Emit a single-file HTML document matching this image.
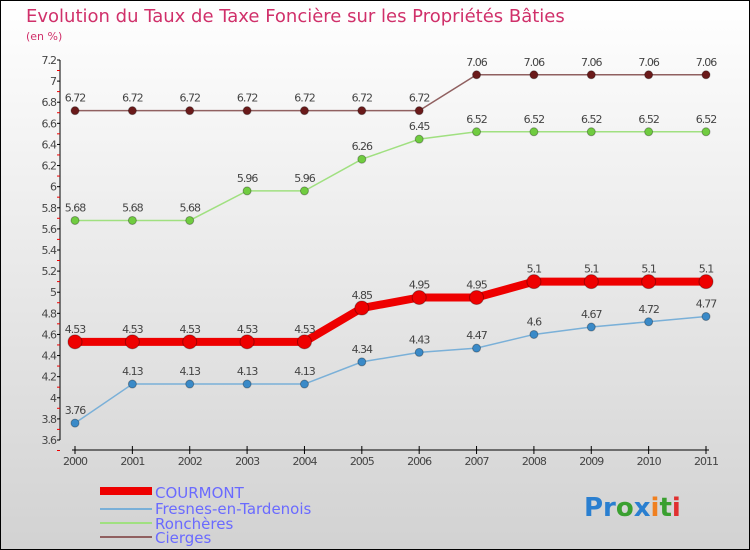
<!DOCTYPE html>
<html><head><meta charset="utf-8"><style>
body{margin:0}
#c{width:748px;height:548px;border:1px solid #000;background:linear-gradient(#ffffff,#d2d2d2);position:relative;font-family:"DejaVu Sans","Liberation Sans",sans-serif;overflow:hidden}
text{font-family:"DejaVu Sans","Liberation Sans",sans-serif}
</style></head><body>
<div id="c">
<svg id="s" width="748" height="548" viewBox="1 1 748 548">
<text x="26" y="22" font-size="18" fill="#d0306a">Evolution du Taux de Taxe Foncière sur les Propriétés Bâties</text>
<text x="26" y="40" font-size="11" fill="#d0306a">(en %)</text>
<g id="ax"></g><g id="ser"></g>
<g>
<rect x="100" y="487" width="52" height="8" fill="#ee0000"/>
<text x="155" y="498" font-size="15" fill="#6a6aff">COURMONT</text>
<rect x="100" y="508" width="52" height="2" fill="#7ab0d8"/>
<text x="155" y="514" font-size="15" fill="#6a6aff">Fresnes-en-Tardenois</text>
<rect x="100" y="522" width="52" height="2" fill="#a0e080"/>
<text x="155" y="529" font-size="15" fill="#6a6aff">Ronchères</text>
<rect x="100" y="536" width="52" height="2" fill="#906060"/>
<text x="155" y="543" font-size="15" fill="#6a6aff">Cierges</text>
</g>
<text x="584" y="516" font-size="26" font-weight="bold"><tspan fill="#2a7fd0">Pr</tspan><tspan fill="#3aa030">o</tspan><tspan fill="#2a7fd0">x</tspan><tspan fill="#f08020">i</tspan><tspan fill="#3aa030">t</tspan><tspan fill="#e03030">i</tspan></text>
</svg></div>
<script>
const years=[2000,2001,2002,2003,2004,2005,2006,2007,2008,2009,2010,2011];
const courmont=[4.53,4.53,4.53,4.53,4.53,4.85,4.95,4.95,5.1,5.1,5.1,5.1];
const fresnes=[3.76,4.13,4.13,4.13,4.13,4.34,4.43,4.47,4.6,4.67,4.72,4.77];
const ronch=[5.68,5.68,5.68,5.96,5.96,6.26,6.45,6.52,6.52,6.52,6.52,6.52];
const cierges=[6.72,6.72,6.72,6.72,6.72,6.72,6.72,7.06,7.06,7.06,7.06,7.06];
const yTicks=[3.6,3.8,4,4.2,4.4,4.6,4.8,5,5.2,5.4,5.6,5.8,6,6.2,6.4,6.6,6.8,7,7.2];
const NS="http://www.w3.org/2000/svg";
const X=i=>75+i*(706-75)/11, Y=v=>60+(7.2-v)/3.6*380;
function mk(t,a,p){const e=document.createElementNS(NS,t);for(const k in a)e.setAttribute(k,a[k]);p.appendChild(e);return e;}
const ax=document.getElementById('ax'), ser=document.getElementById('ser');
let e=mk('line',{x1:60,y1:60,x2:60,y2:440,stroke:'#000'},ax);


yTicks.forEach(v=>{const y=Y(v);
 mk('line',{x1:57,y1:y,x2:60,y2:y,stroke:'#000'},ax);
 mk('line',{x1:57,y1:y+10.5,x2:60,y2:y+10.5,stroke:'#e00'},ax);
 const t=mk('text',{x:56,y:y+4,'font-size':11,fill:'#444','text-anchor':'end','letter-spacing':'-1'},ax);t.textContent=String(v);
 
 });
e=mk('line',{x1:72,y1:450,x2:709,y2:450,stroke:'#000'},ax);


years.forEach((yr,i)=>{const x=X(i);
 mk('line',{x1:x,y1:446,x2:x,y2:454,stroke:'#000'},ax);
 const t=mk('text',{x:x,y:465,'font-size':11,fill:'#444','text-anchor':'middle','letter-spacing':'-1'},ax);t.textContent=yr;
 
 });
function series(d,name,col,dot,w,r){
 const g=mk('g',{},ser);
 
 
 mk('polyline',{points:d.map((v,i)=>X(i)+','+Y(v)).join(' '),fill:'none',stroke:col,'stroke-width':w},g);
 d.forEach((v,i)=>{const c=mk('circle',{cx:X(i),cy:Y(v),r:r,fill:dot,stroke:'rgba(0,0,0,0.3)'},g);
  
  
  const t=mk('text',{x:X(i),y:Y(v)-9,'font-size':11,fill:'#444','text-anchor':'middle','letter-spacing':'-1'},g);t.textContent=String(v);
  
  });
}
series(cierges,'cierges','#906060','#6a1a1a',1.5,4);
series(ronch,'ronch','#a0e080','#70cc40',1.5,4);
series(fresnes,'fresnes','#7ab0d8','#3a8ac8',1.5,4);
series(courmont,'courmont','#ee0000','#ee0000',8,7);
</script>
</body></html>
